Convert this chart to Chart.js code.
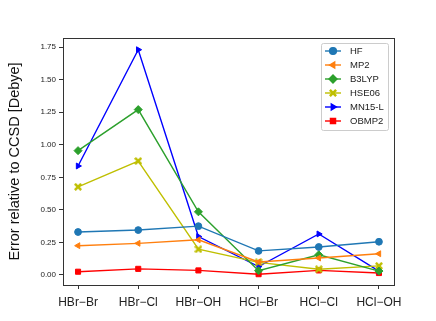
<!DOCTYPE html>
<html>
<head>
<meta charset="utf-8">
<script src="https://cdn.jsdelivr.net/npm/chart.js@4.4.1/dist/chart.umd.min.js"></script>
<style>
  html, body { margin: 0; padding: 0; background: #fff; }
  #wrap { width: 436px; height: 321px; }
</style>
</head>
<body>
<div id="wrap"><canvas id="errChart" width="436" height="321"></canvas></div>
<script>
// Data
const systems = ['HBr\u2212Br', 'HBr\u2212Cl', 'HBr\u2212OH', 'HCl\u2212Br', 'HCl\u2212Cl', 'HCl\u2212OH'];
const hfErr    = [0.33, 0.345, 0.375, 0.185, 0.215, 0.255];
const mp2Err   = [0.225, 0.243, 0.27, 0.10, 0.13, 0.163];
const b3lypErr = [0.955, 1.27, 0.485, 0.033, 0.155, 0.03];
const hse06Err = [0.677, 0.875, 0.198, 0.097, 0.044, 0.07];
const mn15lErr = [0.837, 1.73, 0.295, 0.065, 0.315, 0.03];
const obmp2Err = [0.025, 0.047, 0.035, 0.006, 0.035, 0.015];
const yTicks   = [0, 0.25, 0.5, 0.75, 1.0, 1.25, 1.5, 1.75];

const FONT = "'Liberation Sans', Arial, sans-serif";

// filled "X" marker like matplotlib's 'X'
function makeXMarker(color, size) {
    const c = document.createElement('canvas');
    c.width = size; c.height = size;
    const g = c.getContext('2d');
    const s = size, t = s * 0.22;
    g.fillStyle = color;
    g.beginPath();
    g.moveTo(t, 0); g.lineTo(s / 2, s / 2 - t); g.lineTo(s - t, 0); g.lineTo(s, t);
    g.lineTo(s / 2 + t, s / 2); g.lineTo(s, s - t); g.lineTo(s - t, s); g.lineTo(s / 2, s / 2 + t);
    g.lineTo(t, s); g.lineTo(0, s - t); g.lineTo(s / 2 - t, s / 2); g.lineTo(0, t);
    g.closePath();
    g.fill();
    return c;
}

function toPoints(arr) {
    return arr.map((v, i) => ({ x: i, y: v }));
}

function series(label, values, color, style, rotation) {
    return {
        label: label,
        data: toPoints(values),
        borderColor: color,
        backgroundColor: color,
        borderWidth: 1.4,
        pointStyle: style,
        pointRotation: rotation || 0,
        pointRadius: 3.4,
        pointHoverRadius: 3.4,
        pointBorderWidth: 1,
        pointBorderColor: color,
        pointBackgroundColor: color,
        tension: 0
    };
}

const datasets = [
    series('HF', hfErr, '#1f77b4', 'circle'),
    series('MP2', mp2Err, '#ff7f0e', 'triangle', -90),
    series('B3LYP', b3lypErr, '#2ca02c', 'rectRot'),
    series('HSE06', hse06Err, '#bfbf00', makeXMarker('#bfbf00', 8)),
    series('MN15-L', mn15lErr, '#0000ff', 'triangle', 90),
    series('OBMP2', obmp2Err, '#ff0000', 'rect')
];
datasets[2].pointRadius = 4;
datasets[5].pointRadius = 3.6;

// frame on all four sides + legend inside the plot area
const framePlugin = {
    id: 'frameAndLegend',
    afterDatasetsDraw(chart) {
        const ctx = chart.ctx;
        const a = chart.chartArea;
        ctx.save();
        ctx.strokeStyle = '#333';
        ctx.lineWidth = 1;
        ctx.strokeRect(Math.round(a.left) + 0.5, Math.round(a.top) + 0.5,
            Math.round(a.right - a.left), Math.round(a.bottom - a.top));

        // legend box
        const bx = 321, by = 43, bw = 67, bh = 87;
        ctx.fillStyle = 'rgba(255,255,255,0.8)';
        ctx.strokeStyle = '#cccccc';
        ctx.beginPath();
        ctx.roundRect(bx + 0.5, by + 0.5, bw, bh, 2);
        ctx.fill();
        ctx.stroke();

        ctx.font = '9.5px ' + FONT;
        ctx.textBaseline = 'middle';
        chart.data.datasets.forEach((ds, i) => {
            const y = by + 8 + i * 14;
            ctx.strokeStyle = ds.borderColor;
            ctx.lineWidth = 1.4;
            ctx.beginPath();
            ctx.moveTo(bx + 4, y);
            ctx.lineTo(bx + 20, y);
            ctx.stroke();
            ctx.fillStyle = ds.borderColor;
            Chart.helpers.drawPoint(ctx, {
                pointStyle: ds.pointStyle,
                rotation: ds.pointRotation,
                radius: ds.pointRadius,
                borderWidth: 1
            }, bx + 12, y);
            ctx.fillStyle = '#222';
            ctx.fillText(ds.label, bx + 29, y + 0.5);
        });
        ctx.restore();
    }
};

new Chart(document.getElementById('errChart').getContext('2d'), {
    type: 'line',
    data: { datasets: datasets },
    options: {
        responsive: false,
        animation: false,
        events: [],
        layout: { padding: { left: 0, top: 38, right: 42, bottom: 0 } },
        plugins: {
            legend: { display: false },
            tooltip: { enabled: false }
        },
        scales: {
            x: {
                type: 'linear',
                min: -0.25,
                max: 5.25,
                afterBuildTicks(scale) {
                    scale.ticks = systems.map((s, i) => ({ value: i }));
                },
                afterFit(scale) { scale.height = 36; },
                grid: { drawOnChartArea: false, drawTicks: true, tickLength: 4, color: '#333' },
                border: { display: true, color: '#333' },
                ticks: {
                    color: '#222',
                    font: { family: FONT, size: 12 },
                    padding: 6,
                    maxRotation: 0,
                    autoSkip: false,
                    callback: (v) => systems[v]
                }
            },
            y: {
                min: -0.077,
                max: 1.82,
                afterBuildTicks(scale) {
                    scale.ticks = yTicks.map(v => ({ value: v }));
                },
                afterFit(scale) { scale.width = 63; },
                grid: { drawOnChartArea: false, drawTicks: true, tickLength: 4, color: '#333' },
                border: { display: true, color: '#333' },
                title: {
                    display: true,
                    text: 'Error relative to CCSD [Debye]',
                    color: '#111',
                    font: { family: FONT, size: 14.5 },
                    padding: { top: 6, bottom: 0 }
                },
                ticks: {
                    color: '#222',
                    font: { family: FONT, size: 8 },
                    padding: 3,
                    callback: (v) => v.toFixed(2)
                }
            }
        }
    },
    plugins: [framePlugin]
});
</script>
</body>
</html>
